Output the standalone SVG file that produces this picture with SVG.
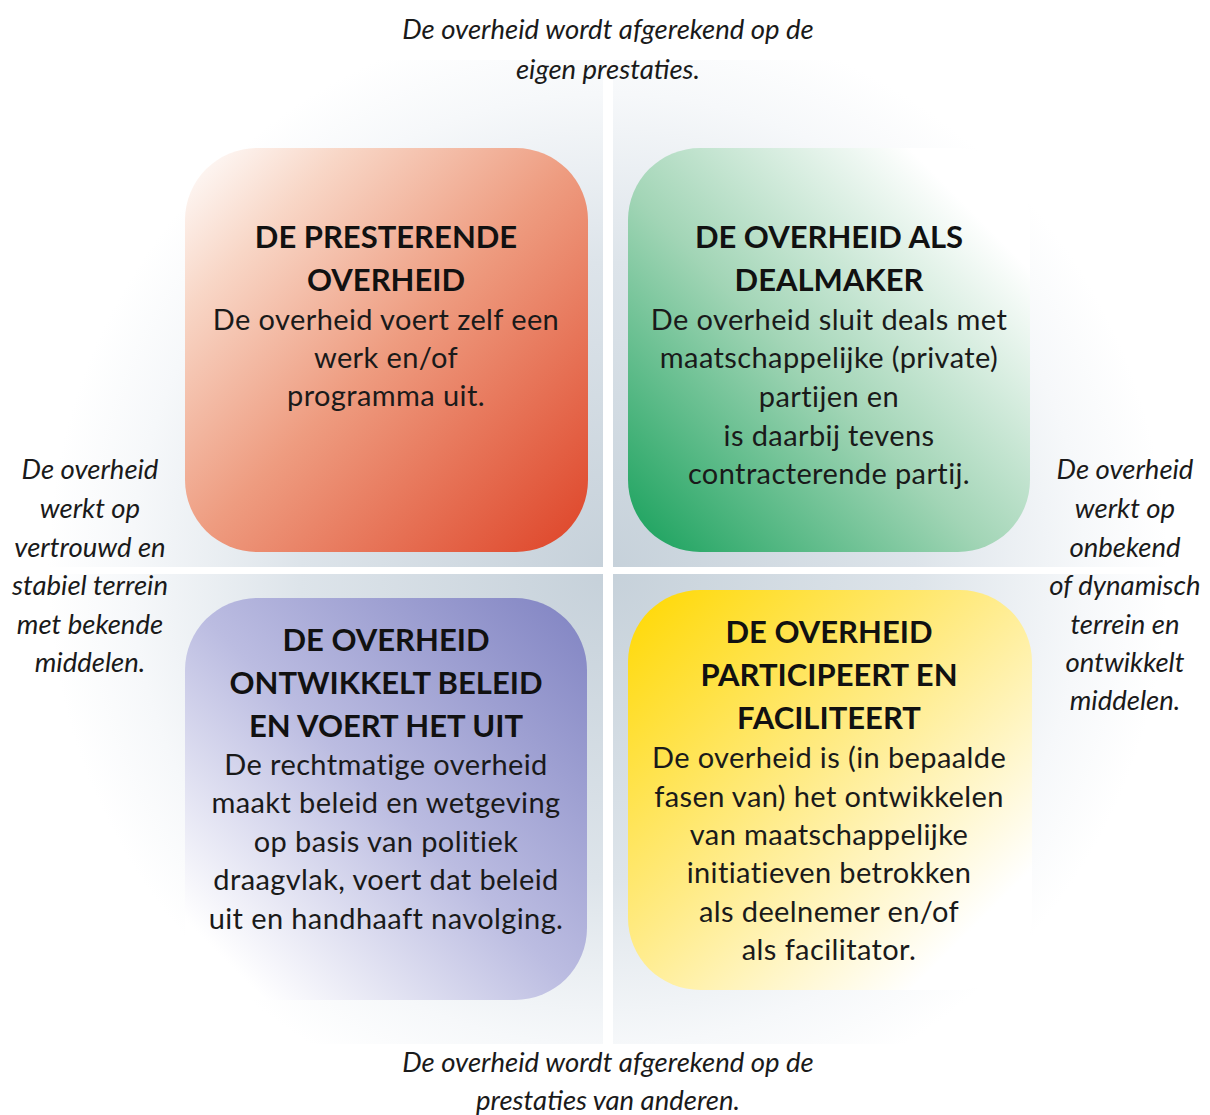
<svg xmlns="http://www.w3.org/2000/svg" width="1210" height="1115" viewBox="0 0 1210 1115">
  <defs>
    <radialGradient id="bg" gradientUnits="userSpaceOnUse" cx="608" cy="570" r="560">
      <stop offset="0" stop-color="#c6d1da"/>
      <stop offset="0.55" stop-color="#dde4ea"/>
      <stop offset="0.85" stop-color="#f6f8fa"/>
      <stop offset="1" stop-color="#ffffff"/>
    </radialGradient>
    <linearGradient id="gRed" x1="0" y1="0" x2="1" y2="1">
      <stop offset="0" stop-color="#ffffff"/>
      <stop offset="0.2" stop-color="#f8d6c6"/>
      <stop offset="0.5" stop-color="#ee9c80"/>
      <stop offset="1" stop-color="#de4327"/>
    </linearGradient>
    <linearGradient id="gGreen" x1="0" y1="1" x2="1" y2="0">
      <stop offset="0" stop-color="#15a05a"/>
      <stop offset="0.45" stop-color="#a2d5b6"/>
      <stop offset="0.85" stop-color="#ffffff"/>
    </linearGradient>
    <linearGradient id="gPurple" x1="1" y1="0" x2="0" y2="1">
      <stop offset="0" stop-color="#8083c2"/>
      <stop offset="0.5" stop-color="#bbbce1"/>
      <stop offset="0.9" stop-color="#ffffff"/>
    </linearGradient>
    <linearGradient id="gYellow" x1="0" y1="0" x2="1" y2="1">
      <stop offset="0" stop-color="#ffd800"/>
      <stop offset="0.45" stop-color="#ffeb86"/>
      <stop offset="0.85" stop-color="#ffffff"/>
    </linearGradient>
    <style>
      .title { font-family: Lato, "Open Sans", sans-serif; font-weight: 700; font-size: 31px; fill: #111; text-anchor: middle; }
      .body { font-family: Lato, "Open Sans", sans-serif; font-size: 29px; letter-spacing: 0.4px; fill: #1a1a1a; text-anchor: middle; }
      .side { font-family: Lato, "Noto Sans", sans-serif; font-style: italic; font-size: 27.5px; fill: #1a1a1a; text-anchor: middle; }
    </style>
  </defs>
  <rect width="1210" height="1115" fill="#ffffff"/>
  <g id="background">
    <rect x="0" y="60" width="603" height="507" fill="url(#bg)"/>
    <rect x="613" y="60" width="597" height="507" fill="url(#bg)"/>
    <rect x="0" y="574" width="603" height="470" fill="url(#bg)"/>
    <rect x="613" y="574" width="597" height="470" fill="url(#bg)"/>
  </g>
  <g id="connectors"/>
  <g id="top-label">
    <text class="side" x="608" y="39">De overheid wordt afgerekend op de</text>
    <text class="side" x="608" y="79">eigen prestaties.</text>
  </g>
  <g id="bottom-label">
    <text class="side" x="608" y="1072">De overheid wordt afgerekend op de</text>
    <text class="side" x="608" y="1110">prestaties van anderen.</text>
  </g>
  <g id="left-label">
    <text class="side" x="90" y="479">De overheid</text>
    <text class="side" x="90" y="518">werkt op</text>
    <text class="side" x="90" y="557">vertrouwd en</text>
    <text class="side" x="90" y="595">stabiel terrein</text>
    <text class="side" x="90" y="634">met bekende</text>
    <text class="side" x="90" y="672">middelen.</text>
  </g>
  <g id="right-label">
    <text class="side" x="1125" y="479">De overheid</text>
    <text class="side" x="1125" y="518">werkt op</text>
    <text class="side" x="1125" y="557">onbekend</text>
    <text class="side" x="1125" y="595">of dynamisch</text>
    <text class="side" x="1125" y="634">terrein en</text>
    <text class="side" x="1125" y="672">ontwikkelt</text>
    <text class="side" x="1125" y="710">middelen.</text>
  </g>
  <g id="presterende">
    <rect x="185" y="148" width="403" height="404" rx="72" fill="url(#gRed)"/>
    <text class="title" x="386" y="248">DE PRESTERENDE</text>
    <text class="title" x="386" y="291">OVERHEID</text>
    <text class="body" x="386" y="330">De overheid voert zelf een</text>
    <text class="body" x="386" y="368">werk en/of</text>
    <text class="body" x="386" y="406">programma uit.</text>
  </g>
  <g id="dealmaker">
    <rect x="628" y="148" width="402" height="404" rx="72" fill="url(#gGreen)"/>
    <text class="title" x="829" y="248">DE OVERHEID ALS</text>
    <text class="title" x="829" y="291">DEALMAKER</text>
    <text class="body" x="829" y="330">De overheid sluit deals met</text>
    <text class="body" x="829" y="368">maatschappelijke (private)</text>
    <text class="body" x="829" y="407">partijen en</text>
    <text class="body" x="829" y="446">is daarbij tevens</text>
    <text class="body" x="829" y="484">contracterende partij.</text>
  </g>
  <g id="ontwikkelt">
    <rect x="185" y="598" width="402" height="402" rx="72" fill="url(#gPurple)"/>
    <text class="title" x="386" y="651">DE OVERHEID</text>
    <text class="title" x="386" y="694">ONTWIKKELT BELEID</text>
    <text class="title" x="386" y="737">EN VOERT HET  UIT</text>
    <text class="body" x="386" y="775">De rechtmatige overheid</text>
    <text class="body" x="386" y="813">maakt beleid en wetgeving</text>
    <text class="body" x="386" y="852">op basis van politiek</text>
    <text class="body" x="386" y="890">draagvlak, voert dat beleid</text>
    <text class="body" x="386" y="929">uit en handhaaft navolging.</text>
  </g>
  <g id="participeert">
    <rect x="628" y="590" width="404" height="400" rx="72" fill="url(#gYellow)"/>
    <text class="title" x="829" y="643">DE OVERHEID</text>
    <text class="title" x="829" y="686">PARTICIPEERT EN</text>
    <text class="title" x="829" y="729">FACILITEERT</text>
    <text class="body" x="829" y="768">De overheid is (in bepaalde</text>
    <text class="body" x="829" y="807">fasen van) het ontwikkelen</text>
    <text class="body" x="829" y="845">van maatschappelijke</text>
    <text class="body" x="829" y="883">initiatieven betrokken</text>
    <text class="body" x="829" y="922">als deelnemer en/of</text>
    <text class="body" x="829" y="960">als facilitator.</text>
  </g>
</svg>
